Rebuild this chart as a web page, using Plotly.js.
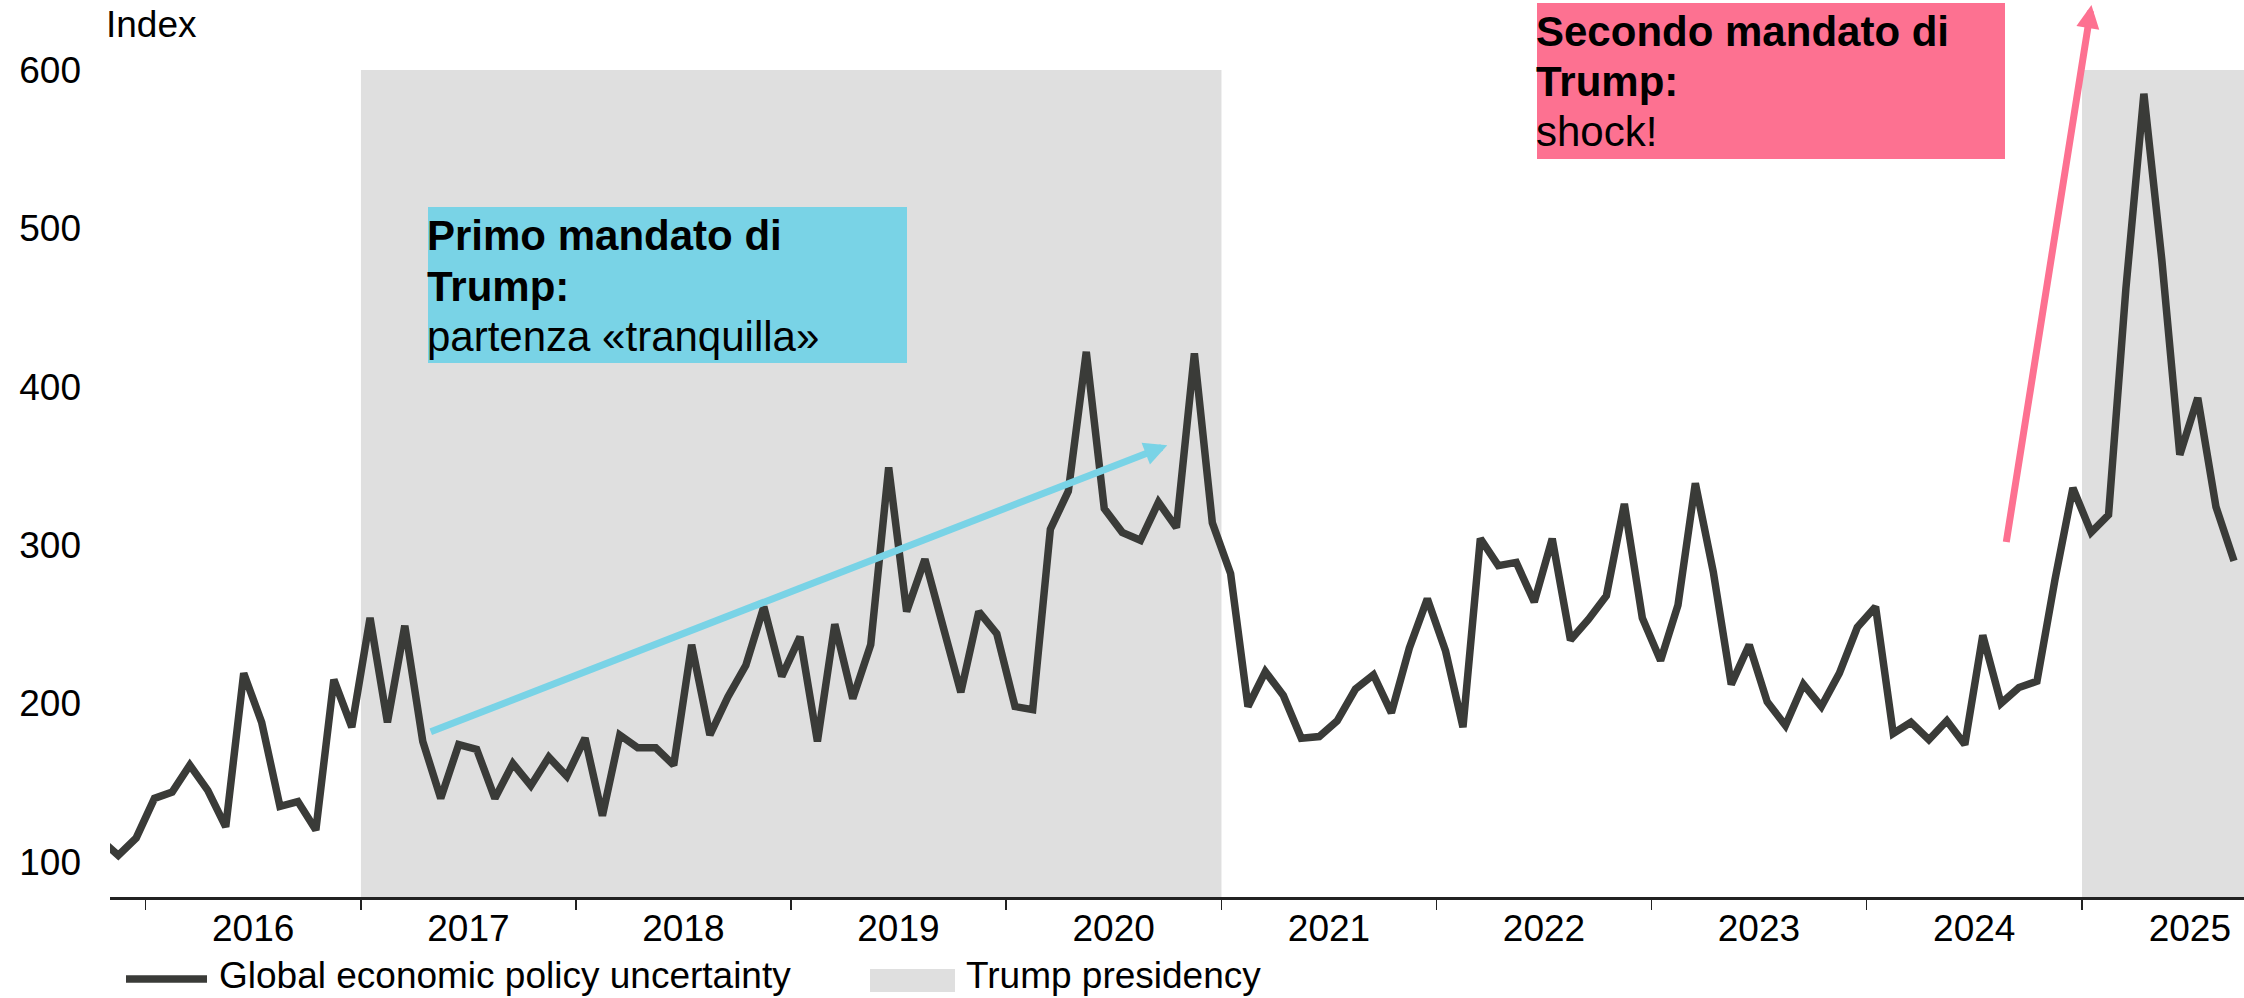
<!DOCTYPE html>
<html>
<head>
<meta charset="utf-8">
<script src="https://cdn.plot.ly/plotly-3.0.1.min.js"></script>
<style>
  html, body { margin: 0; padding: 0; background: #ffffff; }
  #chart { width: 2244px; height: 998px; }
</style>
</head>
<body>
<div id="chart"></div>
<script>
// ---------------- DATA ----------------
const months = [
  "2015-10","2015-11","2015-12",
  "2016-01","2016-02","2016-03","2016-04","2016-05","2016-06","2016-07","2016-08","2016-09","2016-10","2016-11","2016-12",
  "2017-01","2017-02","2017-03","2017-04","2017-05","2017-06","2017-07","2017-08","2017-09","2017-10","2017-11","2017-12",
  "2018-01","2018-02","2018-03","2018-04","2018-05","2018-06","2018-07","2018-08","2018-09","2018-10","2018-11","2018-12",
  "2019-01","2019-02","2019-03","2019-04","2019-05","2019-06","2019-07","2019-08","2019-09","2019-10","2019-11","2019-12",
  "2020-01","2020-02","2020-03","2020-04","2020-05","2020-06","2020-07","2020-08","2020-09","2020-10","2020-11","2020-12",
  "2021-01","2021-02","2021-03","2021-04","2021-05","2021-06","2021-07","2021-08","2021-09","2021-10","2021-11","2021-12",
  "2022-01","2022-02","2022-03","2022-04","2022-05","2022-06","2022-07","2022-08","2022-09","2022-10","2022-11","2022-12",
  "2023-01","2023-02","2023-03","2023-04","2023-05","2023-06","2023-07","2023-08","2023-09","2023-10","2023-11","2023-12",
  "2024-01","2024-02","2024-03","2024-04","2024-05","2024-06","2024-07","2024-08","2024-09","2024-10","2024-11","2024-12",
  "2025-01","2025-02","2025-03","2025-04","2025-05","2025-06","2025-07","2025-08","2025-09"
];

const gepu = [
  114, 104, 115,
  140, 144, 161, 145, 122, 219, 188, 135, 138, 120, 215, 185,
  254, 188, 249, 176, 140, 174, 171, 140, 162, 148, 166, 154,
  178, 129, 180, 172, 172, 161, 237, 180, 204, 224, 261, 217,
  242, 176, 250, 203, 237, 349, 258, 291, 249, 207, 258, 244,
  198, 196, 310, 334, 422, 323, 308, 303, 327, 311, 421, 314,
  282, 198, 220, 205, 178, 179, 189, 209, 218, 194, 235, 266,
  233, 185, 304, 287, 289, 264, 304, 240, 253, 268, 326, 254,
  227, 262, 339, 283, 212, 237, 201, 186, 212, 198, 219, 248,
  261, 181, 188, 177, 189, 174, 243, 200, 210, 214, 278, 336,
  308, 319, 462, 585, 480, 357, 393, 324, 290
];

const presidencyStart = ["2017-01-01", "2025-01-01"];
const presidencyEnd   = ["2021-01-01", "2029-01-20"];

const yTickVals = [100, 200, 300, 400, 500, 600];

// arrows in data coordinates: [tail date, tail value, head date, head value]
const firstTermArrow  = ["2017-04-27", 181.7, "2020-10-01", 363];
const secondTermArrow = ["2024-08-25", 301, "2025-01-17", 641];

const seriesName = "Global economic policy uncertainty";
const shadeName = "Trump presidency";
const yTitle = "Index";
const box1Lines = ["<b>Primo mandato di</b>", "<b>Trump:</b>", "partenza «tranquilla»"];
const box2Lines = ["<b>Secondo mandato di</b>", "<b>Trump:</b>", "shock!"];

// ---------------- STYLE / LAYOUT ----------------
const FONT = '"Liberation Sans", Arial, Helvetica, sans-serif';
const AXFONT = 37;
const LINE = '#3a3b38';
const SHADE = '#dfdfdf';
const BLUE = '#79d3e6';
const PINK = '#fd7191';

const W = 2244, H = 998;
const ML = 110, MR = 0, MT = 70, MB = 101;
const PW = W - ML - MR, PH = H - MT - MB;
const px = v => (v - ML) / PW;          // page x pixel -> paper
const py = v => (H - MB - v) / PH;      // page y pixel -> paper

const shapes = [];
for (let i = 0; i < presidencyStart.length; i++) {
  shapes.push({type: 'rect', xref: 'x', yref: 'paper',
    x0: presidencyStart[i], x1: presidencyEnd[i], y0: 0, y1: 1,
    fillcolor: SHADE, line: {width: 0}, layer: 'below'});
}
// annotation boxes
shapes.push({type: 'rect', xref: 'paper', yref: 'paper',
  x0: px(428), x1: px(907), y0: py(363), y1: py(207),
  fillcolor: BLUE, line: {width: 0}, layer: 'above'});
shapes.push({type: 'rect', xref: 'paper', yref: 'paper',
  x0: px(1537), x1: px(2005), y0: py(159), y1: py(3),
  fillcolor: PINK, line: {width: 0}, layer: 'above'});
// legend symbols
shapes.push({type: 'line', xref: 'paper', yref: 'paper',
  x0: px(126), x1: px(207), y0: py(979), y1: py(979),
  line: {color: LINE, width: 7.5}});
shapes.push({type: 'rect', xref: 'paper', yref: 'paper',
  x0: px(870), x1: px(955), y0: py(992), y1: py(969),
  fillcolor: SHADE, line: {width: 0}});

const annotations = [];
function arrow(a, color) {
  return {xref: 'x', yref: 'y', axref: 'x', ayref: 'y',
    x: a[2], y: a[3], ax: a[0], ay: a[1], text: '',
    showarrow: true, arrowhead: 2, arrowsize: 0.66, arrowwidth: 7,
    arrowcolor: color, standoff: 0, startstandoff: 0};
}
annotations.push(arrow(firstTermArrow, BLUE));
annotations.push(arrow(secondTermArrow, PINK));

function textLine(t, xPix, yCenterPix, size) {
  return {xref: 'paper', yref: 'paper', x: px(xPix), y: py(yCenterPix),
    xanchor: 'left', yanchor: 'middle', text: t, showarrow: false,
    font: {family: FONT, size: size, color: '#000'}, borderpad: 0};
}
const box1Centers = [235.5, 286.5, 336.2];
const box2Centers = [31.4, 81.9, 131.9];
box1Lines.forEach((t, i) => annotations.push(textLine(t, 426, box1Centers[i], 42)));
box2Lines.forEach((t, i) => annotations.push(textLine(t, 1535, box2Centers[i], 42)));
// legend texts
annotations.push(textLine(seriesName, 218, 975, AXFONT));
annotations.push(textLine(shadeName, 965, 975, AXFONT));

const trace = {
  type: 'scatter', mode: 'lines', name: seriesName,
  x: months, y: gepu,
  xperiod: 'M1', xperiodalignment: 'middle',
  line: {color: LINE, width: 7.5},
  hoverinfo: 'skip', showlegend: false
};

const layout = {
  width: W, height: H,
  margin: {l: ML, r: MR, t: MT, b: MB, pad: 0},
  paper_bgcolor: '#ffffff', plot_bgcolor: '#ffffff',
  showlegend: false,
  font: {family: FONT, size: AXFONT, color: '#000'},
  title: {text: yTitle, font: {family: FONT, size: AXFONT, color: '#000'},
    xref: 'container', x: 106 / W, xanchor: 'left',
    yref: 'container', y: 1 - 24 / H, yanchor: 'middle', pad: {t: 0, b: 0, l: 0, r: 0}},
  xaxis: {
    type: 'date', range: ['2015-11-02', '2025-10-03'],
    showline: true, linecolor: '#222222', linewidth: 3,
    ticks: 'outside', ticklen: 10, tickwidth: 1.5, tickcolor: '#222222',
    tick0: '2016-01-01', dtick: 'M12', tickformat: '%Y', ticklabelmode: 'period',
    ticklabelstandoff: -13,
    showgrid: false, zeroline: false,
    tickfont: {family: FONT, size: AXFONT, color: '#000'}
  },
  yaxis: {
    range: [77.7, 600], tickmode: 'array', tickvals: yTickVals,
    showgrid: false, zeroline: false, showline: false, ticks: '',
    ticklabelstandoff: 28,
    tickfont: {family: FONT, size: AXFONT, color: '#000'}
  },
  shapes: shapes,
  annotations: annotations
};

Plotly.newPlot('chart', [trace], layout, {displayModeBar: false, staticPlot: true});
</script>
</body>
</html>
